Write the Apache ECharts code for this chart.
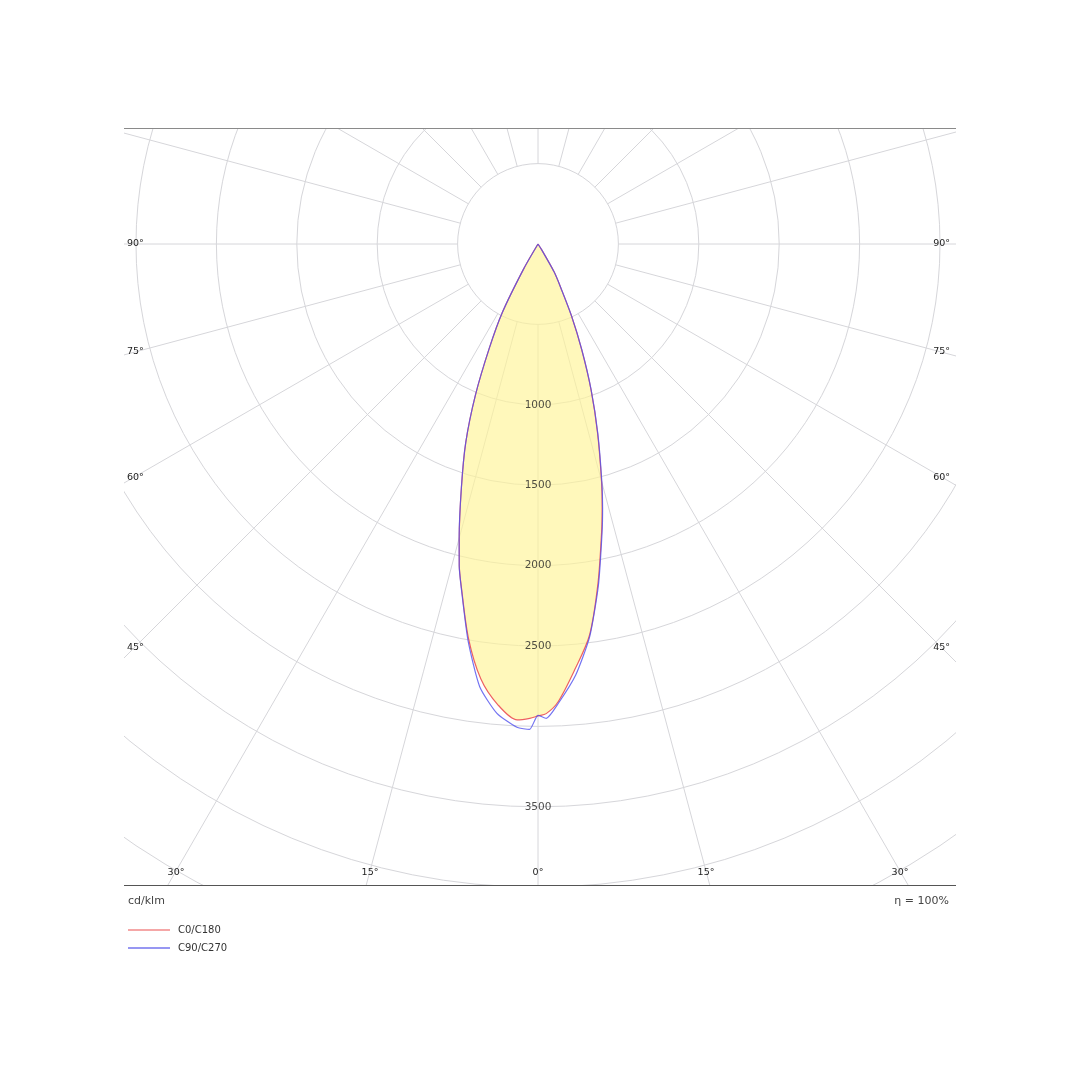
<!DOCTYPE html>
<html><head><meta charset="utf-8">
<script src="https://cdn.jsdelivr.net/npm/echarts@6/dist/echarts.min.js"></script>
<style>html,body{margin:0;background:#fff}#c{width:1080px;height:1080px}</style>
</head><body><div id="c"></div>
<script>
// gamma angles (deg) and intensities (cd/klm)
const GAMMA = [0, 1, 2.5, 5, 7.5, 10, 12.5, 13.75, 15, 17.5, 20, 22.5, 25, 27.5, 30, 32.5, 35];
const C0   = [2935, 2921, 2851, 2652, 2454, 2146, 1829, 1678, 1526, 1231, 964, 709, 491, 307, 200, 40, 0];
const C180 = [2935, 2950, 2962, 2875, 2727, 2490, 2196, 2059, 1892, 1583, 1314, 1016, 720, 482, 175, 0, 0];
const C90  = [2931, 2950, 2862, 2691, 2463, 2160, 1840, 1690, 1535, 1238, 968, 712, 493, 308, 200, 40, 0];
const C270 = [2931, 3019, 3008, 2930, 2777, 2505, 2200, 2062, 1895, 1583, 1314, 1016, 720, 482, 175, 0, 0];
const RADIUS_LABELS = [1000, 1500, 2000, 2500, 3500];
const ANGLE_LINES = [];
for (let a = -165; a <= 180; a += 15) ANGLE_LINES.push(a);
const SERIES_NAMES = ['C0/C180', 'C90/C270'];

function plane(leftVals, rightVals) {
  const out = [];
  for (let i = GAMMA.length - 1; i >= 1; i--) out.push([leftVals[i], -GAMMA[i]]);
  out.push([rightVals[0], 0]);
  for (let i = 1; i < GAMMA.length; i++) out.push([rightVals[i], GAMMA[i]]);
  return out;
}

const chart = echarts.init(document.getElementById('c'));
const FONT = 'DejaVu Sans';

const series = [];
ANGLE_LINES.forEach(a => {
  series.push({
    type: 'line', coordinateSystem: 'polar', silent: true, z: 1,
    data: [[500, a], [5000, a]], symbol: 'none',
    lineStyle: { color: '#d6d6da', width: 1 }
  });
});
series.push({
  name: SERIES_NAMES[0], type: 'line', coordinateSystem: 'polar', z: 2,
  data: plane(C180, C0), symbol: 'none', smooth: 0.3,
  lineStyle: { color: '#ee6060', width: 1.2 },
  itemStyle: { color: '#f28a8a' },
  areaStyle: { color: 'rgb(255,244,150)', opacity: 0.65 }
});
series.push({
  name: SERIES_NAMES[1], type: 'line', coordinateSystem: 'polar', z: 2,
  data: plane(C270, C90), symbol: 'none', smooth: 0.2,
  lineStyle: { color: '#5050ee', width: 1.2, opacity: 0.8 },
  itemStyle: { color: '#7474ee' }
});
series.push({
  type: 'scatter', coordinateSystem: 'polar', z: 2, silent: true,
  data: RADIUS_LABELS.map(v => [v, 0]), symbolSize: 1,
  itemStyle: { color: 'rgba(0,0,0,0)' },
  label: { show: true, position: 'inside', formatter: p => String(p.value[0]),
           color: '#222', fontSize: 10.5, fontFamily: FONT }
});

const angleLabels = [
  ['90°', 127, 244, 'left'], ['75°', 127, 352, 'left'], ['60°', 127, 478, 'left'], ['45°', 127, 648, 'left'],
  ['90°', 950, 244, 'right'], ['75°', 950, 352, 'right'], ['60°', 950, 478, 'right'], ['45°', 950, 648, 'right'],
  ['30°', 176, 873, 'center'], ['15°', 370, 873, 'center'], ['0°', 538, 873, 'center'],
  ['15°', 706, 873, 'center'], ['30°', 900, 873, 'center']
];

const graphic = [
  { type: 'rect', z: 3, shape: { x: 0, y: 0, width: 1080, height: 128 }, style: { fill: '#fff' } },
  { type: 'rect', z: 3, shape: { x: 0, y: 885, width: 1080, height: 195 }, style: { fill: '#fff' } },
  { type: 'rect', z: 3, shape: { x: 0, y: 0, width: 124, height: 1080 }, style: { fill: '#fff' } },
  { type: 'rect', z: 3, shape: { x: 956, y: 0, width: 124, height: 1080 }, style: { fill: '#fff' } },
  { type: 'line', z: 5, shape: { x1: 124, y1: 128.5, x2: 956, y2: 128.5 }, style: { stroke: '#8a8a8a', lineWidth: 1 } },
  { type: 'line', z: 5, shape: { x1: 124, y1: 885.5, x2: 956, y2: 885.5 }, style: { stroke: '#555', lineWidth: 1.2 } },
  { type: 'text', z: 5, style: { text: 'cd/klm', x: 128, y: 901, font: '11px ' + FONT, fill: '#444', textAlign: 'left', textVerticalAlign: 'middle' } },
  { type: 'text', z: 5, style: { text: 'η = 100%', x: 949, y: 901, font: '11px ' + FONT, fill: '#444', textAlign: 'right', textVerticalAlign: 'middle' } }
];
angleLabels.forEach(([t, x, y, al]) => {
  graphic.push({ type: 'text', z: 5, style: { text: t, x, y, font: '9.5px ' + FONT, fill: '#222', textAlign: al, textVerticalAlign: 'middle' } });
});

chart.setOption({
  animation: false,
  backgroundColor: '#fff',
  polar: { center: [538, 244], radius: 804 },
  angleAxis: {
    type: 'value', min: -180, max: 180, startAngle: 90, clockwise: false,
    axisLine: { show: false }, axisTick: { show: false }, axisLabel: { show: false }, splitLine: { show: false }
  },
  radiusAxis: {
    type: 'value', min: 0, max: 5000, interval: 500,
    axisLine: { show: false }, axisTick: { show: false }, axisLabel: { show: false },
    splitLine: { show: true, lineStyle: { color: '#d6d6da', width: 1 } }
  },
  legend: {
    data: SERIES_NAMES, orient: 'vertical', left: 128, top: 925, padding: 0,
    icon: 'rect', itemWidth: 42, itemHeight: 1.3, itemGap: 8,
    textStyle: { color: '#333', fontSize: 10, fontFamily: FONT, padding: [0, 0, 0, 3] }, z: 6
  },
  graphic: graphic,
  series: series
});
</script></body></html>
